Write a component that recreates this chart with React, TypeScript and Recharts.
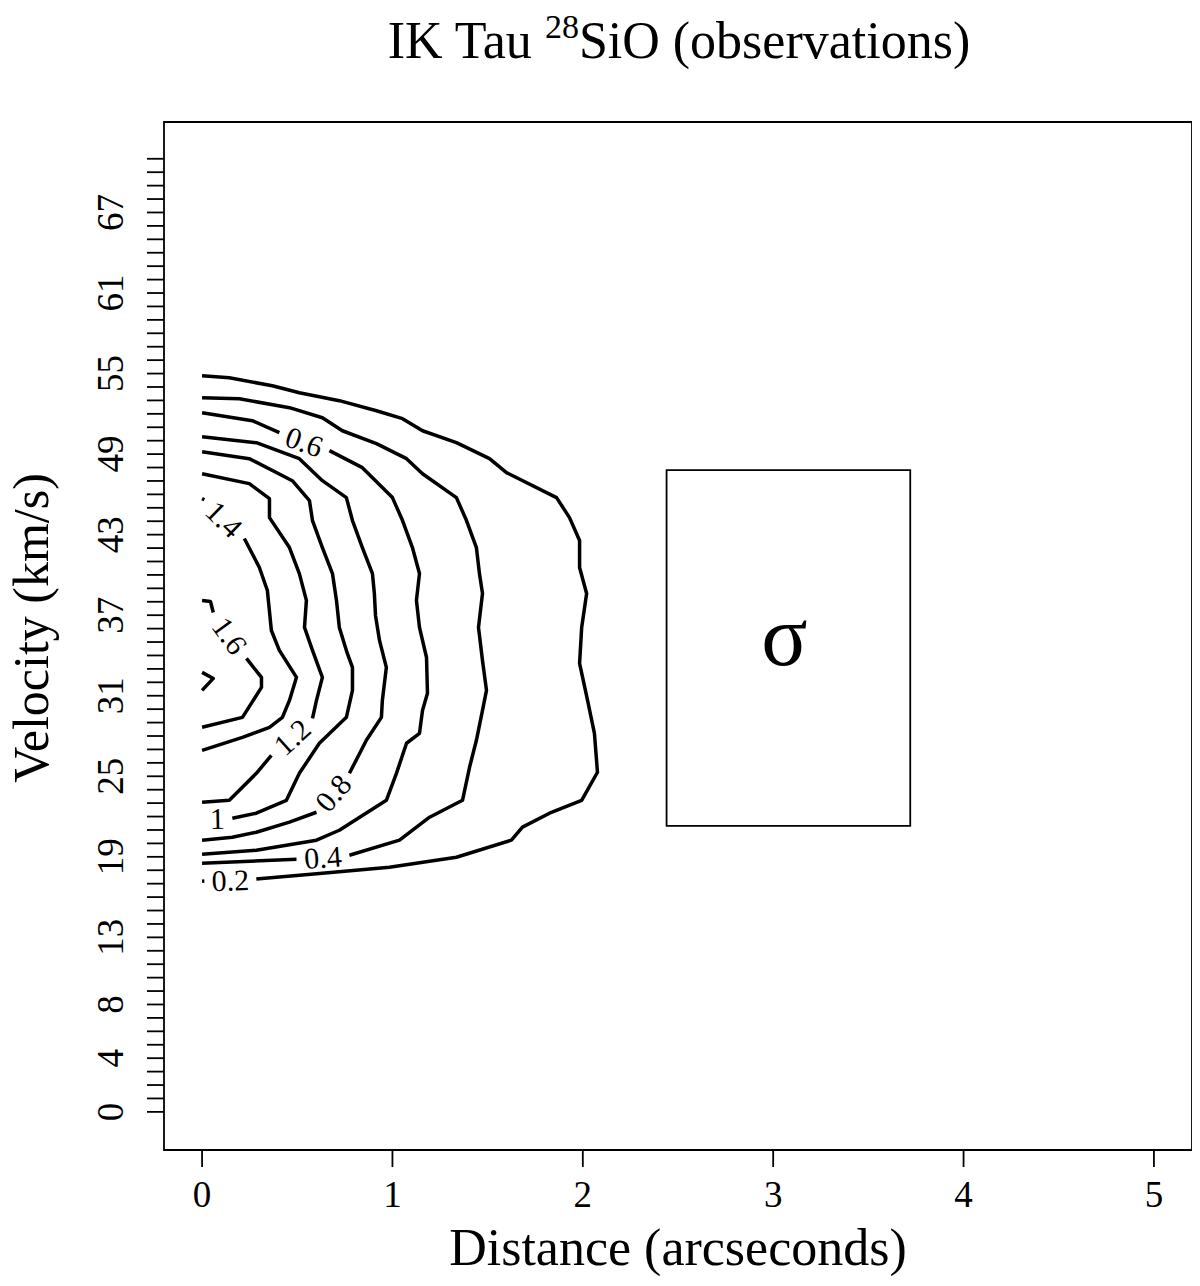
import React from 'react';
import { LineChart, Line, XAxis, YAxis, ReferenceArea } from 'recharts';

const FONT = '"Liberation Serif", "Times New Roman", serif';

// Axis ticks
const X_TICKS = [0, 1, 2, 3, 4, 5];
const Y_TICK_LABELS = [0, 4, 8, 13, 19, 25, 31, 37, 43, 49, 55, 61, 67];
const Y_TICKS = Array.from({ length: 72 }, (_, i) => i);

// Sigma box (data units)
const SIGMA_BOX = { x1: 2.44, x2: 3.72, y1: 21.3, y2: 47.8 };

// Contour lines [distance, velocity]; each split at its inline label
const C02_MAIN = [[0, 54.84], [0.143, 54.69], [0.369, 54.09], [0.511, 53.57], [0.721, 52.98], [0.916, 52.23], [1.053, 51.64], [1.158, 50.74], [1.336, 49.85], [1.51, 48.66], [1.599, 47.62], [1.862, 45.76], [1.93, 44.27], [1.983, 42.56], [1.983, 40.55], [2.02, 38.62], [1.994, 36.09], [1.983, 33.41], [2.025, 30.65], [2.061, 28.2], [2.077, 25.3], [1.994, 23.21], [1.825, 22.25], [1.683, 21.21], [1.625, 20.24], [1.336, 18.97], [0.984, 18.23], [0.632, 17.78], [0.285, 17.34]];
const C02_END = [[0.012, 17.19], [0, 17.19]];

const C04_MAIN = [[0, 53.2], [0.196, 53.12], [0.459, 52.46], [0.632, 51.71], [0.737, 50.74], [0.916, 49.78], [1.074, 48.66], [1.158, 47.54], [1.336, 45.76], [1.389, 44.05], [1.441, 42.04], [1.457, 40.1], [1.473, 38.62], [1.452, 36.09], [1.473, 33.63], [1.494, 31.4], [1.473, 29.91], [1.441, 27.68], [1.405, 25.67], [1.368, 23.21], [1.195, 21.95], [1.037, 20.24], [0.774, 19.12]];
const C04_END = [[0.496, 18.82], [0, 18.53]];

const C06_START = [[0, 52.08], [0.264, 51.49], [0.406, 50.6]];
const C06_REST = [[0.669, 49.26], [0.842, 47.99], [1.0, 45.76], [1.053, 44.05], [1.105, 42.04], [1.142, 40.1], [1.126, 38.1], [1.142, 36.09], [1.179, 33.85], [1.184, 31.18], [1.158, 29.91], [1.142, 28.2], [1.074, 27.46], [1.021, 25.22], [0.968, 23.21], [0.721, 20.98], [0.601, 20.24], [0.285, 19.49], [0, 19.2]];

const C08_MAIN = [[0, 50.3], [0.285, 49.85], [0.511, 48.66], [0.632, 47.02], [0.758, 45.76], [0.79, 44.05], [0.842, 42.04], [0.895, 40.1], [0.905, 38.62], [0.911, 36.98], [0.932, 35.12], [0.968, 33.11], [0.947, 30.65], [0.942, 29.39], [0.863, 27.68], [0.774, 25.22]];
const C08_END = [[0.601, 22.32], [0.459, 21.58], [0.285, 20.83], [0.159, 20.46], [0, 20.24]];

const C10_MAIN = [[0, 49.18], [0.248, 48.66], [0.474, 47.02], [0.564, 45.54], [0.58, 44.05], [0.632, 42.04], [0.685, 40.1], [0.706, 38.1], [0.721, 36.09], [0.763, 34.15], [0.79, 33.11], [0.79, 31.4], [0.758, 29.39], [0.616, 27.46], [0.511, 25.22], [0.443, 23.21], [0.285, 22.25], [0.159, 21.88]];
const C10_END = [[0, 21.84]];

const C12_MAIN = [[0, 47.54], [0.248, 46.8], [0.354, 45.68], [0.354, 44.27], [0.459, 42.04], [0.511, 40.1], [0.548, 38.1], [0.538, 36.09], [0.58, 34.38], [0.632, 32.37], [0.601, 30.65], [0.58, 29.32]];
const C12_END = [[0.364, 26.56], [0.285, 25.22], [0.143, 23.21], [0, 23.07]];

const C14_START = [[0, 45.68], [0.012, 45.6]];
const C14_REST = [[0.222, 42.71], [0.301, 40.55], [0.343, 38.84], [0.354, 37.28], [0.364, 35.86], [0.406, 34.38], [0.496, 32.37], [0.459, 30.65], [0.422, 29.39], [0.354, 28.65], [0.212, 27.9], [0, 26.93]];

const C16_START = [[0, 38.1], [0.044, 38.02], [0.059, 37.2]];
const C16_REST = [[0.233, 33.78], [0.312, 32.37], [0.312, 31.62], [0.212, 29.39], [0, 28.65]];

const C18 = [[0, 32.74], [0.059, 32.29], [0, 31.4]];

const CONTOURS = [
  { level: '0.2', a: C02_MAIN, b: C02_END },
  { level: '0.4', a: C04_MAIN, b: C04_END },
  { level: '0.6', a: C06_START, b: C06_REST },
  { level: '0.8', a: C08_MAIN, b: C08_END },
  { level: '1', a: C10_MAIN, b: C10_END },
  { level: '1.2', a: C12_MAIN, b: C12_END },
  { level: '1.4', a: C14_START, b: C14_REST },
  { level: '1.6', a: C16_START, b: C16_REST },
  { level: '1.8', a: C18, b: null as number[][] | null },
];

const toPts = (arr: number[][]) => arr.map(([x, y]) => ({ x, y }));

function makeLabelDot(text: string) {
  let first: { cx: number; cy: number } | null = null;
  return (props: any) => {
    const { cx, cy, index } = props;
    if (index === 0) {
      first = { cx, cy };
      return <g key={`lbl0-${text}`} />;
    }
    if (!first) return <g key={`lbl1-${text}`} />;
    const mx = (first.cx + cx) / 2;
    const my = (first.cy + cy) / 2;
    let ang = (Math.atan2(cy - first.cy, cx - first.cx) * 180) / Math.PI;
    if (ang > 90) ang -= 180;
    if (ang < -90) ang += 180;
    return (
      <text
        key={`lbl1-${text}`}
        x={mx}
        y={my}
        transform={`rotate(${ang} ${mx} ${my})`}
        textAnchor="middle"
        dominantBaseline="central"
        fontFamily={FONT}
        fontSize={30}
        fill="#000"
      >
        {text}
      </text>
    );
  };
}

const XTick = (props: any) => {
  const { x, y, payload } = props;
  return (
    <text x={x} y={y + 38} textAnchor="middle" fontFamily={FONT} fontSize={37} fill="#000">
      {payload.value}
    </text>
  );
};

const YTick = (props: any) => {
  const { x, y, payload } = props;
  if (!Y_TICK_LABELS.includes(payload.value)) return <g />;
  const tx = x - 22;
  return (
    <text
      x={tx}
      y={y}
      transform={`rotate(-90 ${tx} ${y})`}
      textAnchor="middle"
      fontFamily={FONT}
      fontSize={37}
      fill="#000"
    >
      {payload.value}
    </text>
  );
};

const SigmaLabel = (props: any) => {
  const vb = props.viewBox || {};
  const cx = vb.x + vb.width / 2 - 4;
  const cy = vb.y + vb.height / 2 - 12;
  return (
    <text x={cx} y={cy} textAnchor="middle" dominantBaseline="central" fontFamily={FONT} fontSize={86} fill="#000">
      σ
    </text>
  );
};

export default function App() {
  const W = 1190;
  const H = 1270;
  return (
    <div style={{ position: 'relative', width: W, height: H }}>
      <LineChart width={W} height={H} margin={{ top: 114, right: 6, left: 56, bottom: 28 }}>
        <XAxis
          type="number"
          dataKey="x"
          domain={[-0.2, 5.2]}
          ticks={X_TICKS}
          allowDataOverflow
          interval={0}
          tickSize={17}
          axisLine={false}
          tickLine={{ stroke: '#000', strokeWidth: 1.8 }}
          tick={<XTick />}
          height={100}
        />
        <YAxis
          type="number"
          domain={[-2.84, 73.74]}
          ticks={Y_TICKS}
          allowDataOverflow
          interval={0}
          tickSize={17}
          axisLine={false}
          tickLine={{ stroke: '#000', strokeWidth: 1.8 }}
          tick={<YTick />}
          width={100}
        />
        <ReferenceArea
          x1={-0.2}
          x2={5.2}
          y1={-2.84}
          y2={73.74}
          fill="none"
          fillOpacity={0}
          stroke="#000"
          strokeWidth={1.8}
          ifOverflow="visible"
        />
        <ReferenceArea
          x1={SIGMA_BOX.x1}
          x2={SIGMA_BOX.x2}
          y1={SIGMA_BOX.y1}
          y2={SIGMA_BOX.y2}
          fill="none"
          fillOpacity={0}
          stroke="#000"
          strokeWidth={1.8}
          ifOverflow="visible"
          label={<SigmaLabel />}
        />
        {CONTOURS.map((c) => (
          <Line
            key={`a-${c.level}`}
            data={toPts(c.a)}
            dataKey="y"
            type="linear"
            stroke="#000"
            strokeWidth={3.5}
            strokeLinejoin="round"
            dot={false}
            activeDot={false}
            isAnimationActive={false}
            legendType="none"
          />
        ))}
        {CONTOURS.filter((c) => c.b && c.b.length > 1).map((c) => (
          <Line
            key={`b-${c.level}`}
            data={toPts(c.b as number[][])}
            dataKey="y"
            type="linear"
            stroke="#000"
            strokeWidth={3.5}
            strokeLinejoin="round"
            dot={false}
            activeDot={false}
            isAnimationActive={false}
            legendType="none"
          />
        ))}
        {CONTOURS.filter((c) => c.b).map((c) => (
          <Line
            key={`l-${c.level}`}
            data={toPts([c.a[c.a.length - 1], (c.b as number[][])[0]])}
            dataKey="y"
            type="linear"
            stroke="none"
            dot={makeLabelDot(c.level)}
            activeDot={false}
            isAnimationActive={false}
            legendType="none"
          />
        ))}
      </LineChart>
      <svg
        width={W + 8}
        height={H + 8}
        style={{ position: 'absolute', left: -8, top: -8, pointerEvents: 'none' }}
      >
        <text x={679} y={58} textAnchor="middle" fontFamily={FONT} fontSize={52} fill="#000">
          IK Tau{' '}
          <tspan fontSize={34} dy={-20}>28</tspan>
          <tspan dy={20}>SiO (observations)</tspan>
        </text>
        <text x={678} y={1265} textAnchor="middle" fontFamily={FONT} fontSize={52} fill="#000">
          Distance (arcseconds)
        </text>
        <text
          x={48}
          y={628}
          transform="rotate(-90 48 628)"
          textAnchor="middle"
          fontFamily={FONT}
          fontSize={50}
          fill="#000"
        >
          Velocity (km/s)
        </text>
      </svg>
    </div>
  );
}
